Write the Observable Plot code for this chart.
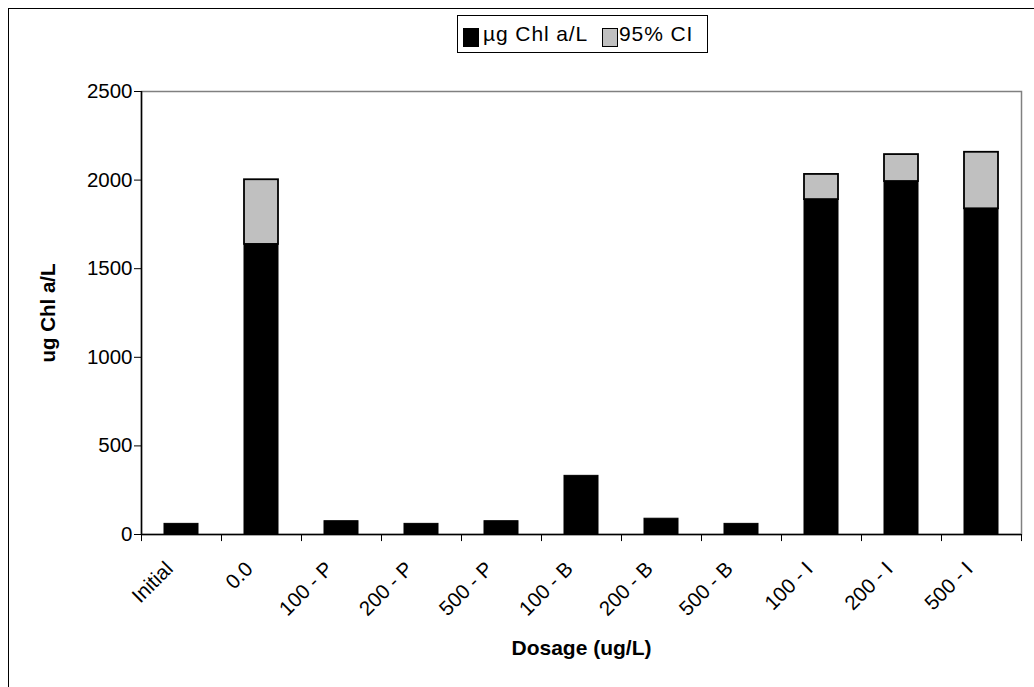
<!DOCTYPE html>
<html>
<head>
<meta charset="utf-8">
<script src="https://cdn.jsdelivr.net/npm/d3@7"></script>
<script src="https://cdn.jsdelivr.net/npm/@observablehq/plot@0.6"></script>
<style>
  html, body { margin: 0; padding: 0; background: #fff; }
  #wrap { position: relative; width: 1034px; height: 687px; overflow: hidden; font-family: "Liberation Sans", Arial, sans-serif; }
  #border { position: absolute; left: 8px; top: 8px; right: -2px; bottom: -2px; border-top: 1.5px solid #000; border-left: 1.5px solid #000; pointer-events: none; }
  #legend { position: absolute; left: 457px; top: 15px; width: 251px; height: 38px; border: 1px solid #000; background: #fff; box-sizing: border-box; font-size: 21px; letter-spacing: 0.9px; }
  .sw { position: absolute; top: 12px; width: 16px; height: 19px; box-sizing: border-box; border: 1px solid #000; }
  .lt { position: absolute; top: 6px; line-height: 24px; white-space: nowrap; }
</style>
</head>
<body>
<div id="wrap">
  <div id="chart"></div>
  <div id="border"></div>
  <div id="legend"></div>
</div>
<script>
const categories = ["Initial", "0.0", "100 - P", "200 - P", "500 - P", "100 - B", "200 - B", "500 - B", "100 - I", "200 - I", "500 - I"];
const meanValues = [60, 1637, 75, 60, 75, 331, 89, 60, 1890, 1992, 1838];
const upperCI = [60, 2002, 75, 60, 75, 331, 89, 60, 2032, 2144, 2157];
const yTicks = [0, 500, 1000, 1500, 2000, 2500];
const seriesNames = ["µg Chl a/L", "95% CI"];
const seriesColors = ["#000000", "#c0c0c0"];

const rows = categories.map((c, i) => ({cat: c, mean: meanValues[i], upper: upperCI[i]}));
const ciRows = rows.filter(d => d.upper > d.mean);

const W = 1034, H = 687;
const mL = 141, mR = 13, mT = 91, mB = 153;
const step = (W - mL - mR) / categories.length;

const chart = Plot.plot({
  width: W,
  height: H,
  marginLeft: mL,
  marginRight: mR,
  marginTop: mT,
  marginBottom: mB,
  style: {fontFamily: "Liberation Sans, Arial, sans-serif", fontSize: "20px", color: "#000", background: "#fff"},
  x: {type: "band", domain: categories, paddingInner: 0.575, paddingOuter: 0.2875, align: 0.5},
  y: {domain: [0, 2500]},
  marks: [
    Plot.frame({stroke: "#808080", strokeWidth: 1.5}),
    Plot.barY(rows, {x: "cat", y1: 0, y2: "mean", fill: seriesColors[0], stroke: "#000", strokeWidth: 1}),
    Plot.barY(ciRows, {x: "cat", y1: "mean", y2: "upper", fill: seriesColors[1], stroke: "#000", strokeWidth: 1.8}),
    Plot.ruleY([0], {stroke: "#000", strokeWidth: 1.5}),
    Plot.ruleX([categories[0]], {x: d => d, dx: -step / 2, y1: 0, y2: 2500, stroke: "#000", strokeWidth: 1.5}),
    Plot.ruleX(categories, {x: d => d, dx: -step / 2, y1: 0, y2: -40, stroke: "#000"}),
    Plot.ruleX([categories[categories.length - 1]], {x: d => d, dx: step / 2, y1: 0, y2: -40, stroke: "#000"}),
    Plot.axisY({ticks: yTicks, tickSize: 7, tickPadding: 2, label: null, tickFormat: d => String(d), fontSize: 20.5}),
    Plot.axisX({tickSize: 0, tickRotate: -45, tickPadding: 31, dx: -12, label: null, fontSize: 20.5}),
    Plot.text(["Dosage (ug/L)"], {frameAnchor: "bottom", lineAnchor: "middle", textAnchor: "middle", dy: 114, fontWeight: "bold", fontSize: 21, letterSpacing: "1.1px"}),
    Plot.text(["ug Chl a/L"], {frameAnchor: "left", textAnchor: "middle", lineAnchor: "middle", dx: -93, rotate: -90, fontWeight: "bold", fontSize: 20.5})
  ]
});
document.getElementById("chart").appendChild(chart);

const legend = document.getElementById("legend");
const swLeft = [5, 144];
const txtLeft = [25, 161];
seriesNames.forEach((name, i) => {
  const sw = document.createElement("span");
  sw.className = "sw";
  sw.style.left = swLeft[i] + "px";
  sw.style.background = seriesColors[i];
  legend.appendChild(sw);
  const t = document.createElement("span");
  t.className = "lt";
  t.style.left = txtLeft[i] + "px";
  t.textContent = name;
  legend.appendChild(t);
});
</script>
</body>
</html>
